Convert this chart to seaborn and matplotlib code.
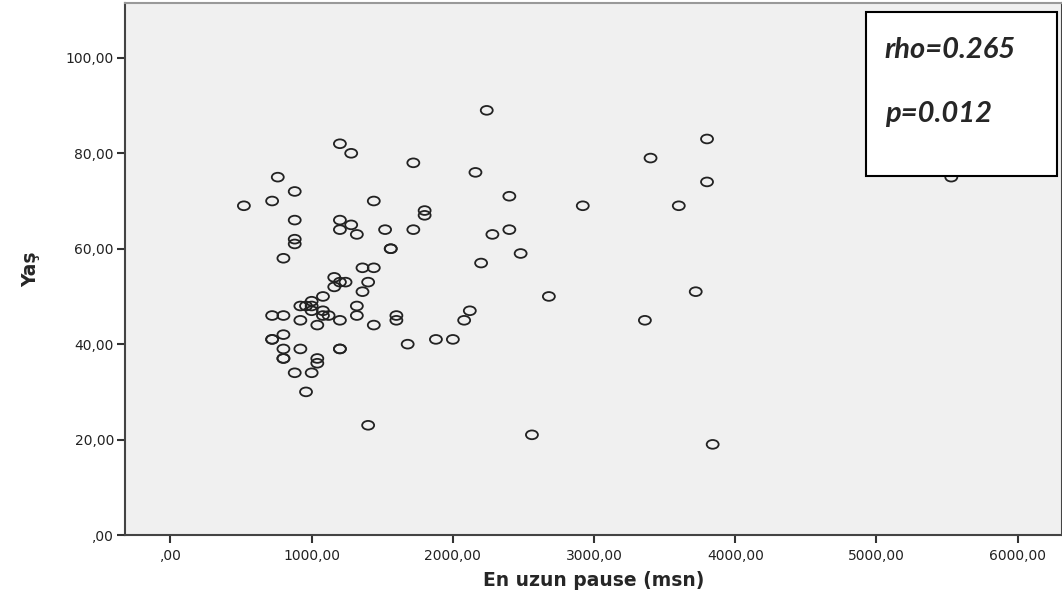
import numpy as np
import pandas as pd
import seaborn as sns
import matplotlib.pyplot as plt
from matplotlib.markers import MarkerStyle
from matplotlib.patches import Rectangle
from matplotlib.ticker import FuncFormatter
from matplotlib.transforms import Affine2D

# values (pause in msn, age in years)
pause_msn = [520, 720, 760, 880, 880, 880, 880, 800, 720, 800,
             720, 720, 800, 800, 800, 800, 880, 920, 920, 920,
             960, 960, 1000, 1000, 1000, 1000, 1040, 1040, 1040, 1080,
             1080, 1080, 1120, 1160, 1160, 1200, 1200, 1200, 1200, 1200,
             1200, 1200, 1240, 1280, 1280, 1320, 1320, 1320, 1360, 1360,
             1400, 1400, 1440, 1440, 1440, 1520, 1560, 1560, 1600, 1600,
             1680, 1720, 1720, 1800, 1800, 1880, 2000, 2080, 2120, 2160,
             2200, 2240, 2280, 2400, 2400, 2480, 2560, 2680, 2920, 3360,
             3400, 3600, 3720, 3800, 3800, 3840, 5530]
age = [69, 70, 75, 72, 66, 62, 61, 58, 46, 46,
       41, 41, 42, 39, 37, 37, 34, 48, 45, 39,
       48, 30, 49, 48, 47, 34, 44, 37, 36, 50,
       47, 46, 46, 54, 52, 82, 66, 64, 53, 45,
       39, 39, 53, 80, 65, 63, 48, 46, 56, 51,
       53, 23, 70, 56, 44, 64, 60, 60, 46, 45,
       40, 78, 64, 68, 67, 41, 41, 45, 47, 76,
       57, 89, 63, 71, 64, 59, 21, 50, 69, 45,
       79, 69, 51, 83, 74, 19, 75]

x_ticks = [0, 1000, 2000, 3000, 4000, 5000, 6000]
y_ticks = [0, 20, 40, 60, 80, 100]
stats_lines = ["rho=0.265", "p=0.012"]

df = pd.DataFrame({"pause": pause_msn, "age": age})

sns.set_style("white")
plt.rcParams['font.family'] = ['DejaVu Sans']

fig = plt.figure(figsize=(10.62, 5.96), dpi=100)
ax = fig.add_axes([0.1177, 0.1023, 0.8823, 0.8927])
ax.set_facecolor("#f0f0f0")

# SPSS circles are a little wider than tall
try:
    mk = MarkerStyle("o", transform=Affine2D().scale(1.3, 0.95))
except TypeError:
    mk = "o"
sns.scatterplot(data=df, x="pause", y="age", ax=ax, marker=mk, s=44,
                facecolors="none", edgecolor="#222222", linewidth=1.3, zorder=3)

ax.set_xlim(-322, 6314)
ax.set_ylim(0, 111.5)
ax.set_xticks(x_ticks)
ax.set_yticks(y_ticks)

def comma_fmt(v, pos):
    s = f"{v:.2f}".replace(".", ",")
    return s[1:] if s.startswith("0,") else s

ax.xaxis.set_major_formatter(FuncFormatter(comma_fmt))
ax.yaxis.set_major_formatter(FuncFormatter(comma_fmt))
ax.tick_params(axis="both", direction="out", length=6, width=1.5,
               color="#333333", labelsize=10, labelcolor="#222222",
               bottom=True, left=True)
ax.tick_params(axis="x", pad=4)
ax.tick_params(axis="y", pad=2)

for side, sp in ax.spines.items():
    sp.set_color("#444444")
    sp.set_linewidth(1.5)
ax.spines["top"].set_color("#999999")

ax.set_xlabel("En uzun pause (msn)", fontsize=13.5, fontweight="bold", labelpad=6)
ax.set_ylabel("Yaş", fontsize=13.5, fontweight="bold", labelpad=18)

# stats box in the upper right corner
ax.add_patch(Rectangle((0.791, 0.675), 0.2037, 0.308, transform=ax.transAxes,
                       facecolor="white", edgecolor="black", linewidth=1.5,
                       zorder=5))
ax.text(0.811, 0.912, stats_lines[0], transform=ax.transAxes, fontsize=21,
        fontweight="bold", fontstyle="italic", family=["Lato", "DejaVu Sans"],
        va="center", ha="left", zorder=6)
ax.text(0.811, 0.792, stats_lines[1], transform=ax.transAxes, fontsize=21,
        fontweight="bold", fontstyle="italic", family=["Lato", "DejaVu Sans"],
        va="center", ha="left", zorder=6)

fig.savefig("out.png", dpi=100)
